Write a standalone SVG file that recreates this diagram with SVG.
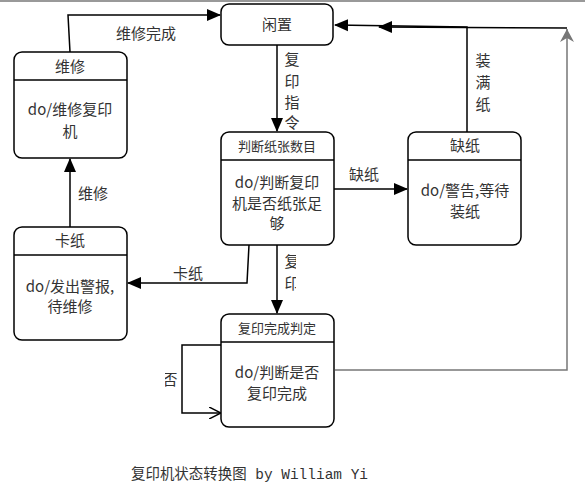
<svg xmlns="http://www.w3.org/2000/svg" width="585" height="491" viewBox="0 0 585 491">
<defs>
<style>
.n{fill:#fff;stroke:#000;stroke-width:1.5}
.d{stroke:#000;stroke-width:1.3}
.t{font-family:"Noto Sans CJK SC","Liberation Sans",sans-serif;font-size:15px;fill:#333;text-anchor:middle}
.h{font-size:13px}
.e{fill:none;stroke:#000;stroke-width:1.5}
.g{fill:none;stroke:#777;stroke-width:1.5}
</style>
<marker id="a" markerWidth="14" markerHeight="14" refX="13" refY="7" orient="auto" markerUnits="userSpaceOnUse">
<path d="M0,1 L14,7 L0,13 Z" fill="#000"/>
</marker>
<marker id="ga" markerWidth="14" markerHeight="14" refX="13" refY="7" orient="auto" markerUnits="userSpaceOnUse">
<path d="M0,0 L13,7 L0,14 L4,7 Z" fill="#777"/>
</marker>
<marker id="o" markerWidth="12" markerHeight="12" refX="11" refY="6" orient="auto" markerUnits="userSpaceOnUse">
<path d="M0,0 L12,6 L0,12" fill="none" stroke="#000" stroke-width="1.5"/>
</marker>
<clipPath id="c1"><rect x="283" y="248" width="13" height="45"/></clipPath>
<clipPath id="c2"><rect x="165" y="365" width="20" height="30"/></clipPath>
</defs>
<rect x="0" y="0" width="585" height="2" fill="#999"/>
<g id="connectors">
<path class="e" d="M70,52 L68,15 L220,15" marker-end="url(#a)"/>
<path class="e" d="M277,45 L277,131" marker-end="url(#a)"/>
<path class="e" d="M334,189 L407,189" marker-end="url(#a)"/>
<path class="e" d="M467,132 L467,27 L335,25" marker-end="url(#a)"/>
<path class="g" d="M335,370 L567,370 L567,29" marker-end="url(#ga)"/>
<path class="e" d="M567,28 L379,27" marker-end="url(#a)"/>
<path class="e" d="M249,245 L247,283 L128,283" marker-end="url(#a)"/>
<path class="e" d="M70,227 L70,159" marker-end="url(#a)"/>
<path class="e" d="M277,245 L277,313" marker-end="url(#a)"/>
<path class="e" d="M222,345 L182,345 L182,413 L220,413" marker-end="url(#o)"/>
<text class="t" x="146" y="39">维修完成</text>
<text class="t" x="292" y="65">复</text>
<text class="t" x="292" y="87">印</text>
<text class="t" x="292" y="108">指</text>
<text class="t" x="292" y="128">令</text>
<text class="t" x="364" y="180">缺纸</text>
<text class="t" x="483" y="66">装</text>
<text class="t" x="483" y="88">满</text>
<text class="t" x="483" y="110">纸</text>
<text class="t" x="188" y="279">卡纸</text>
<text class="t" x="93" y="199">维修</text>
<g clip-path="url(#c1)">
<text class="t" x="292" y="267">复</text>
<text class="t" x="292" y="289">印</text>
</g>
<g clip-path="url(#c2)"><text class="t" x="170" y="385">否</text></g>
</g>
<g id="idle">
<rect class="n" x="221" y="4" width="112" height="41" rx="8"/>
<text class="t" x="277" y="30">闲置</text>
</g>
<g id="repair">
<rect class="n" x="14" y="52" width="113" height="106" rx="8"/>
<line class="d" x1="14" y1="80" x2="127" y2="80"/>
<text class="t" x="70" y="72">维修</text>
<text class="t" x="70" y="115">do/维修复印</text>
<text class="t" x="70" y="137">机</text>
</g>
<g id="check">
<rect class="n" x="221" y="132" width="113" height="113" rx="8"/>
<line class="d" x1="221" y1="160" x2="334" y2="160"/>
<text class="t h" x="277" y="151">判断纸张数目</text>
<text class="t" x="277" y="188">do/判断复印</text>
<text class="t" x="277" y="209">机是否纸张足</text>
<text class="t" x="277" y="229">够</text>
</g>
<g id="nopaper">
<rect class="n" x="408" y="132" width="113" height="113" rx="8"/>
<line class="d" x1="408" y1="160" x2="521" y2="160"/>
<text class="t" x="465" y="151">缺纸</text>
<text class="t" x="465" y="196">do/警告,等待</text>
<text class="t" x="465" y="217">装纸</text>
</g>
<g id="jam">
<rect class="n" x="14" y="227" width="113" height="113" rx="8"/>
<line class="d" x1="14" y1="255" x2="127" y2="255"/>
<text class="t" x="70" y="246">卡纸</text>
<text class="t" x="70" y="292">do/发出警报,</text>
<text class="t" x="70" y="312">待维修</text>
</g>
<g id="done">
<rect class="n" x="221" y="314" width="113" height="113" rx="8"/>
<line class="d" x1="221" y1="342" x2="334" y2="342"/>
<text class="t h" x="277" y="333">复印完成判定</text>
<text class="t" x="277" y="378">do/判断是否</text>
<text class="t" x="277" y="399">复印完成</text>
</g>
<text x="131" y="479" textLength="237" lengthAdjust="spacingAndGlyphs" style="font-family:'Liberation Mono','Noto Sans CJK SC',monospace;font-size:15px;fill:#333">复印机状态转换图 by William Yi</text>
</svg>
